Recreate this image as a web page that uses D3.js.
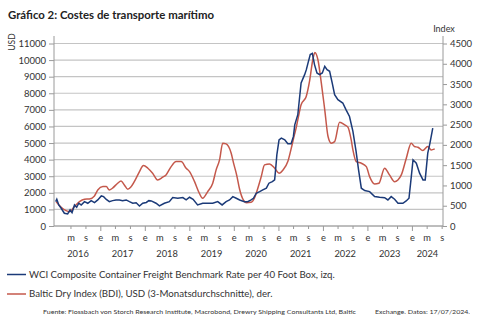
<!DOCTYPE html>
<html><head><meta charset="utf-8">
<script src="https://cdn.jsdelivr.net/npm/d3@7"></script>
<style>
html,body{margin:0;padding:0;background:#fff;}
svg{display:block;}
text{font-family:Lato, "Open Sans", sans-serif;}
</style></head>
<body>
<svg id="c" width="480" height="326"></svg>
<script>
const title = "Gráfico 2: Costes de transporte marítimo";
const leftTicks = [0,1000,2000,3000,4000,5000,6000,7000,8000,9000,10000,11000];
const rightTicks = [0,500,1000,1500,2000,2500,3000,3500,4000,4500];
const years = ["2016","2017","2018","2019","2020","2021","2022","2023","2024"];
const monthLabels = {0:"e",4:"m",8:"s"};

const wciDates = ["2016-01-01","2016-01-10","2016-01-26","2016-02-15","2016-03-12","2016-04-08","2016-04-28","2016-05-14","2016-06-03","2016-06-21","2016-07-08","2016-07-28","2016-08-24","2016-09-20","2016-10-18","2016-11-14","2016-12-11","2017-01-09","2017-01-28","2017-02-19","2017-03-16","2017-04-12","2017-05-10","2017-06-06","2017-07-03","2017-08-01","2017-08-28","2017-09-24","2017-10-22","2017-11-18","2017-12-15","2018-01-13","2018-02-03","2018-02-23","2018-04-03","2018-05-01","2018-06-10","2018-07-21","2018-08-18","2018-09-28","2018-11-09","2018-12-06","2019-01-03","2019-02-01","2019-03-10","2019-04-21","2019-06-01","2019-07-12","2019-08-22","2019-09-27","2019-10-30","2019-11-27","2019-12-24","2020-01-21","2020-02-18","2020-03-28","2020-04-24","2020-05-22","2020-06-10","2020-07-03","2020-07-31","2020-08-26","2020-09-24","2020-10-15","2020-11-12","2020-12-01","2020-12-10","2020-12-19","2021-01-06","2021-01-25","2021-02-22","2021-03-19","2021-04-15","2021-05-04","2021-05-15","2021-06-09","2021-07-06","2021-08-04","2021-08-18","2021-09-01","2021-09-19","2021-10-06","2021-10-24","2021-11-13","2021-12-04","2021-12-27","2022-01-16","2022-02-04","2022-02-25","2022-03-18","2022-04-07","2022-05-04","2022-06-13","2022-07-10","2022-08-07","2022-09-04","2022-09-30","2022-10-20","2022-11-12","2022-12-10","2023-01-19","2023-03-01","2023-04-11","2023-05-22","2023-06-18","2023-07-15","2023-08-12","2023-09-09","2023-10-19","2023-11-15","2023-12-08","2023-12-27","2024-01-10","2024-02-06","2024-03-04","2024-04-01","2024-04-19","2024-05-10","2024-05-28","2024-06-20"];
const wciValues = [1468,1613,1269,1069,767,725,967,804,1269,1130,1371,1269,1468,1371,1529,1408,1571,1813,1771,1600,1468,1529,1560,1571,1529,1571,1468,1371,1400,1208,1371,1420,1529,1510,1371,1208,1371,1468,1710,1673,1710,1571,1732,1613,1269,1371,1371,1371,1468,1269,1468,1571,1771,1673,1571,1468,1468,1571,1673,1975,2073,2175,2278,2580,2677,2779,3486,4290,5196,5299,5196,4954,4954,5397,6100,6707,8622,9123,9425,9830,10332,10400,9727,9226,9123,9226,9625,9425,9323,8622,7915,7613,7413,7000,6600,5700,4500,3400,2278,2135,2073,1771,1732,1710,1571,1771,1613,1371,1371,1510,1673,2979,3988,3788,3184,2779,2779,4393,4997,5903];

const bdiDates = ["2016-01-05","2016-02-15","2016-03-26","2016-04-22","2016-06-03","2016-07-14","2016-08-24","2016-10-04","2016-11-14","2016-12-11","2017-01-22","2017-02-19","2017-03-16","2017-04-10","2017-05-23","2017-06-20","2017-07-17","2017-08-14","2017-09-11","2017-10-22","2017-11-18","2017-12-21","2018-01-26","2018-03-06","2018-04-16","2018-05-28","2018-06-24","2018-08-05","2018-09-15","2018-10-26","2018-12-06","2019-01-03","2019-02-13","2019-03-24","2019-04-20","2019-06-01","2019-07-12","2019-08-09","2019-09-06","2019-10-02","2019-10-30","2019-12-10","2019-12-30","2020-01-25","2020-02-18","2020-03-19","2020-04-13","2020-05-22","2020-06-18","2020-07-16","2020-08-13","2020-09-09","2020-10-20","2020-12-01","2021-01-06","2021-02-08","2021-03-19","2021-04-15","2021-05-12","2021-05-26","2021-06-09","2021-07-06","2021-08-17","2021-09-13","2021-10-10","2021-10-27","2021-11-21","2021-12-19","2022-01-16","2022-02-12","2022-03-10","2022-04-07","2022-05-18","2022-06-29","2022-07-25","2022-08-21","2022-09-04","2022-10-01","2022-11-12","2022-12-23","2023-01-19","2023-03-01","2023-04-05","2023-05-22","2023-07-01","2023-08-12","2023-09-08","2023-10-06","2023-11-16","2023-12-26","2024-01-22","2024-02-19","2024-03-30","2024-05-10","2024-06-07","2024-07-06"];
const bdiValues = [600,462,378,353,477,600,659,667,741,889,971,971,889,931,1054,1111,1013,906,971,1178,1342,1490,1425,1302,1136,1203,1260,1465,1588,1588,1425,1342,1094,808,684,847,1054,1383,1630,2043,2025,1800,1550,1250,900,642,576,585,684,931,1218,1507,1531,1425,1302,1383,1588,1900,2248,2413,2618,2989,3194,3564,4100,4280,4100,3525,2865,2206,2043,2080,2560,2495,2438,2124,1877,1588,1548,1465,1218,1037,1054,1425,1260,1094,1136,1260,1672,2043,1959,1943,1860,1959,1877,1902];

const legendLabels = ["WCI Composite Container Freight Benchmark Rate per 40 Foot Box, izq.","Baltic Dry Index (BDI), USD (3-Monatsdurchschnitte), der."];
const sourceA = "Fuente: Flossbach von Storch Research Institute, Macrobond, Drewry Shipping Consultants Ltd, Baltic";
const sourceB = "Exchange. Datos: 17/07/2024.";

const blue = "#1b3a78", red = "#c4584b", grid = "#c4c4c4", axisC = "#9a9a9a", txt = "#333";
const parse = d3.timeParse("%Y-%m-%d");
const svg = d3.select("#c");

const x = d3.scaleTime().domain([parse("2015-12-18"), parse("2024-09-12")]).range([54, 443]);
const yL = d3.scaleLinear().domain([0, 11000]).range([226, 43.5]);
const yR = d3.scaleLinear().domain([0, 4500]).range([226, 43.5]);

// title
svg.append("text").attr("x", 8).attr("y", 18.5).attr("font-size", 11.4).attr("font-weight", "bold").attr("fill", "#222").text(title);

// gridlines
svg.append("g").selectAll("line").data(leftTicks).join("line")
  .attr("x1", 54).attr("x2", 443).attr("y1", d => yL(d)).attr("y2", d => yL(d))
  .attr("stroke", grid).attr("stroke-width", 1.2);

// left axis
const gL = svg.append("g").attr("transform", "translate(54,0)")
  .call(d3.axisLeft(yL).tickValues(leftTicks).tickSize(5).tickPadding(3).tickFormat(d3.format("d")));
gL.select(".domain").remove();
gL.append("line").attr("x1", 0).attr("x2", 0).attr("y1", 36).attr("y2", 226).attr("stroke", axisC);
gL.selectAll(".tick line").attr("stroke", axisC);
gL.selectAll(".tick text").attr("font-size", 9.5).attr("fill", txt).attr("font-family", "Lato, sans-serif");

// right axis
const gR = svg.append("g").attr("transform", "translate(443,0)")
  .call(d3.axisRight(yR).tickValues(rightTicks).tickSize(4).tickPadding(3).tickFormat(d3.format("d")));
gR.select(".domain").remove();
gR.append("line").attr("x1", 0).attr("x2", 0).attr("y1", 36).attr("y2", 226).attr("stroke", axisC);
gR.selectAll(".tick line").attr("stroke", axisC);
gR.selectAll(".tick text").attr("font-size", 9.5).attr("fill", txt).attr("font-family", "Lato, sans-serif");

// axis titles
svg.append("text").attr("transform", "translate(15,42) rotate(-90)").attr("text-anchor", "middle")
  .attr("font-size", 8.5).attr("fill", txt).text("USD");
svg.append("text").attr("x", 444).attr("y", 32).attr("text-anchor", "middle")
  .attr("font-size", 9).attr("fill", txt).text("Index");

// x axis ticks
const months = d3.timeMonths(parse("2016-02-01"), parse("2024-09-13")).filter(d => d.getMonth() in monthLabels);
const gX = svg.append("g").attr("transform", "translate(0,226)")
  .call(d3.axisBottom(x).tickValues(months).tickSize(3).tickPadding(5).tickFormat(d => monthLabels[d.getMonth()]));
gX.select(".domain").attr("stroke", axisC).attr("d", "M54,0H443");
gX.selectAll(".tick line").attr("stroke", axisC).attr("y2", d => d.getMonth() === 0 ? 5 : 3);
gX.selectAll(".tick text").attr("font-size", 9.3).attr("fill", txt).attr("font-family", "Lato, sans-serif");

// year labels
svg.append("g").selectAll("text").data(years).join("text")
  .attr("x", d => {
    const a = Math.max(x(parse(d + "-01-01")), 54), b = Math.min(x(parse((+d + 1) + "-01-01")), 443);
    return (a + b) / 2;
  })
  .attr("y", 257).attr("text-anchor", "middle").attr("font-size", 9.3).attr("fill", txt).text(d => d);

// lines
const wci = wciDates.map((d, i) => ({ d: parse(d), v: wciValues[i] }));
const bdi = bdiDates.map((d, i) => ({ d: parse(d), v: bdiValues[i] }));
svg.append("path").datum(bdi).attr("fill", "none").attr("stroke", red).attr("stroke-width", 1.5)
  .attr("d", d3.line().x(p => x(p.d)).y(p => yR(p.v)).curve(d3.curveMonotoneX));
svg.append("path").datum(wci).attr("fill", "none").attr("stroke", blue).attr("stroke-width", 1.5)
  .attr("d", d3.line().x(p => x(p.d)).y(p => yL(p.v)));

// legend
const lg = svg.append("g");
[[blue, 274.5], [red, 294]].forEach(([c, y], i) => {
  lg.append("line").attr("x1", 7).attr("x2", 26).attr("y1", y).attr("y2", y).attr("stroke", c).attr("stroke-width", 1.5);
  lg.append("text").attr("x", 29).attr("y", y + 3.4).attr("font-size", 9.7).attr("fill", txt).text(legendLabels[i]);
});

// source
svg.append("text").attr("x", 43).attr("y", 313.5).attr("font-size", 5.6).attr("fill", txt)
  .attr("font-family", "'Liberation Sans', Arial, sans-serif").attr("textLength", 313).attr("lengthAdjust", "spacingAndGlyphs").text(sourceA);
svg.append("text").attr("x", 375).attr("y", 313.5).attr("font-size", 5.6).attr("fill", txt)
  .attr("font-family", "'Liberation Sans', Arial, sans-serif").attr("textLength", 95).attr("lengthAdjust", "spacingAndGlyphs").text(sourceB);
</script>
</body></html>
